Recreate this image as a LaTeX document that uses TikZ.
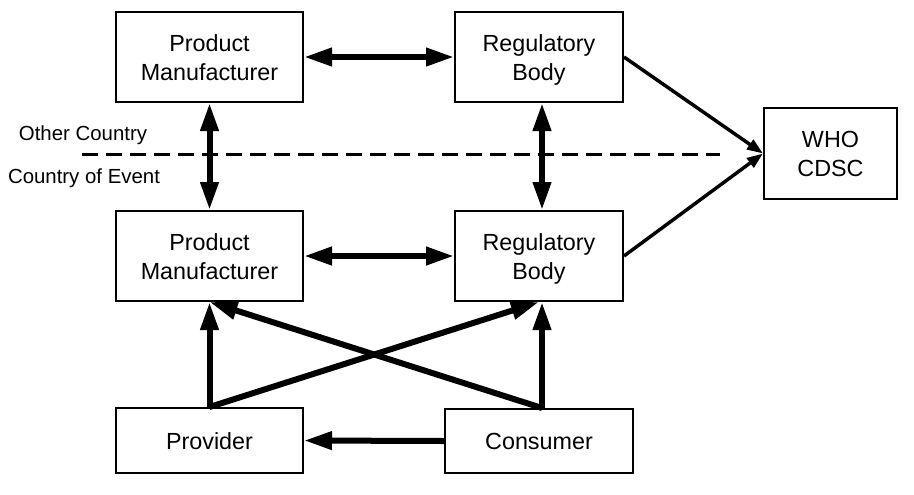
\documentclass[tikz,border=0pt]{standalone}
\usepackage{fontspec}
\setmainfont{Liberation Sans}
\usetikzlibrary{arrows.meta}
\newcommand{\boxline}[1]{\raisebox{-2.25pt}{#1}\strut}
\tikzset{
  box/.style={draw, line width=1.5pt, inner sep=0pt, align=center, font=\fontsize{17.5}{21.75}\selectfont},
  bigtip/.tip={Triangle[length=21pt,width=13pt]},
  smalltip/.tip={Triangle[length=12pt,width=8.5pt]},
  heavy/.style={line width=4.5pt},
  medium/.style={line width=2.6pt},
  sidelabel/.style={font=\fontsize{15.3}{18}\selectfont, inner sep=0pt},
  divider/.style={line width=2.25pt, dash pattern=on 12pt off 6pt}
}
\begin{document}
\begin{tikzpicture}[x=0.75pt,y=-0.75pt]
\useasboundingbox (0,0) rectangle (914,494);
\node[box, minimum width=140.25pt, minimum height=67.5pt] (pm1) at (209.5,57) {\boxline{Product}\\\boxline{Manufacturer}};
\node[box, minimum width=126pt, minimum height=67.5pt] (rb1) at (539,57) {\boxline{Regulatory}\\\boxline{Body}};
\node[box, minimum width=99.75pt, minimum height=68.25pt] (who) at (830.5,153.5) {\boxline{WHO}\\\boxline{CDSC}};
\node[box, minimum width=140.25pt, minimum height=67.5pt] (pm2) at (209.5,256) {\boxline{Product}\\\boxline{Manufacturer}};
\node[box, minimum width=126pt, minimum height=67.5pt] (rb2) at (539,256) {\boxline{Regulatory}\\\boxline{Body}};
\node[box, minimum width=140.25pt, minimum height=48.75pt] (prov) at (209.5,440.5) {\boxline{Provider}};
\node[box, minimum width=141pt, minimum height=48pt] (cons) at (539,441) {\boxline{Consumer}};

\node[sidelabel] (oc) at (83,135) {Other Country};
\node[sidelabel] (coe) at (84,178) {Country of Event};
\coordinate (dl) at (82,154);
\coordinate (dr) at (720,154);
\draw[divider] (dl) -- (dr);

\draw[heavy, {bigtip}-{bigtip}] (pm1.east) -- (rb1.west);
\draw[heavy, {bigtip}-{bigtip}] (pm2.east) -- (rb2.west);
\draw[heavy, {bigtip}-{bigtip}] (pm1.south) -- (pm2.north);
\draw[heavy, {bigtip}-{bigtip}] ([xshift=2.25pt]rb1.south) -- ([xshift=2.25pt]rb2.north);
\draw[medium, -{smalltip}] (rb1.east) -- (who.west);
\draw[medium, -{smalltip}] (rb2.east) -- (who.west);
\draw[heavy, -{bigtip}] (prov.north) -- (pm2.south);
\draw[heavy, -{bigtip}] ([xshift=2.25pt]cons.north) -- ([xshift=2.25pt]rb2.south);
\draw[heavy, -{bigtip}] (prov.north) -- (rb2.south);
\draw[heavy, -{bigtip}] ([xshift=2.25pt]cons.north) -- (pm2.south);
\draw[heavy, -{bigtip}] (cons.west) -- (prov.east);
\end{tikzpicture}
\end{document}
